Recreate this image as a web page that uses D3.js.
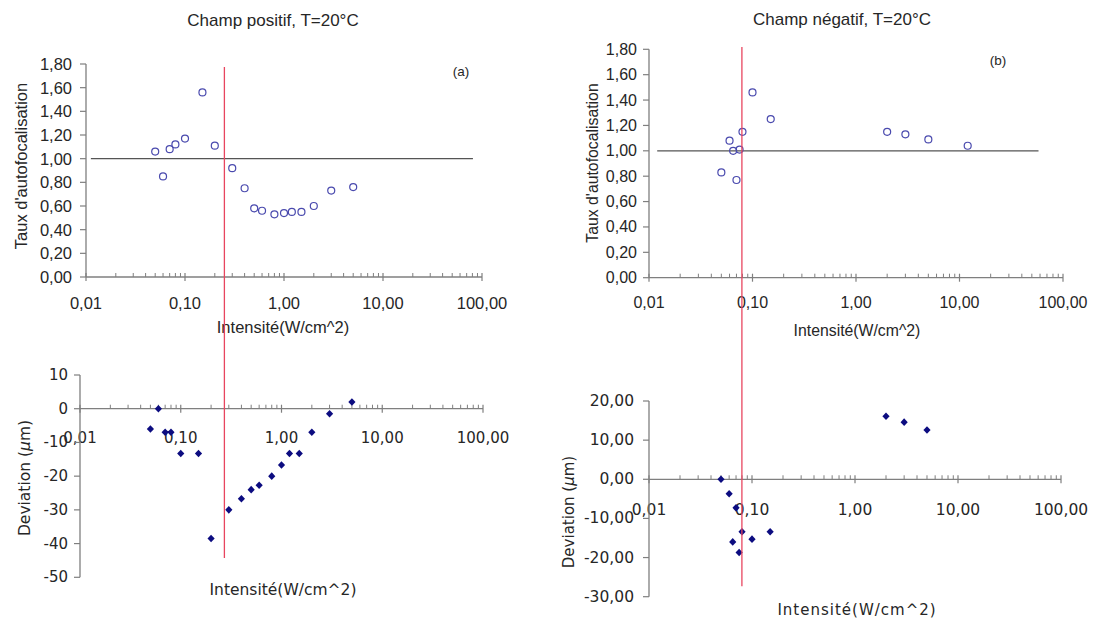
<!DOCTYPE html>
<html><head><meta charset="utf-8">
<script src="https://cdn.jsdelivr.net/npm/d3@7"></script>
<style>body{margin:0;background:#fff}svg{display:block}</style>
</head><body>
<svg id="c" width="1093" height="621"></svg>
<script>
// ---- data ----
const xTickValues = [0.01, 0.1, 1, 10, 100];
const xTickLabels = ["0,01", "0,10", "1,00", "10,00", "100,00"];

const tauxTicks = [0, 0.2, 0.4, 0.6, 0.8, 1.0, 1.2, 1.4, 1.6, 1.8];
const tauxTickLabels = ["0,00", "0,20", "0,40", "0,60", "0,80", "1,00", "1,20", "1,40", "1,60", "1,80"];
const posDevTicks = [10, 0, -10, -20, -30, -40, -50];
const posDevTickLabels = ["10", "0", "-10", "-20", "-30", "-40", "-50"];
const negDevTicks = [20, 10, 0, -10, -20, -30];
const negDevTickLabels = ["20,00", "10,00", "0,00", "-10,00", "-20,00", "-30,00"];

const posIntensity = [0.05, 0.06, 0.07, 0.08, 0.10, 0.15, 0.20, 0.30, 0.40, 0.50, 0.60, 0.80, 1.0, 1.2, 1.5, 2.0, 3.0, 5.0];
const posTaux = [1.06, 0.85, 1.08, 1.12, 1.17, 1.56, 1.11, 0.92, 0.75, 0.58, 0.56, 0.53, 0.54, 0.55, 0.55, 0.60, 0.73, 0.76];
const posDevIntensity = [0.05, 0.06, 0.07, 0.08, 0.10, 0.15, 0.20, 0.30, 0.40, 0.50, 0.60, 0.80, 1.0, 1.2, 1.5, 2.0, 3.0, 5.0];
const posDeviation = [-6, 0, -7, -7, -13.3, -13.3, -38.5, -30, -26.7, -24, -22.7, -20, -16.7, -13.3, -13.3, -7, -1.5, 2];

const negIntensity = [0.05, 0.06, 0.065, 0.07, 0.075, 0.08, 0.10, 0.15, 2.0, 3.0, 5.0, 12];
const negTaux = [0.83, 1.08, 1.00, 0.77, 1.01, 1.15, 1.46, 1.25, 1.15, 1.13, 1.09, 1.04];
const negDevIntensity = [0.05, 0.06, 0.065, 0.07, 0.075, 0.08, 0.10, 0.15, 2.0, 3.0, 5.0];
const negDeviation = [0, -3.7, -16, -7.3, -18.7, -13.4, -15.3, -13.4, 16.1, 14.6, 12.6];

const posRefLineX = [0.0112, 81];
const negRefLineX = [0.012, 58];
const posThreshold = 0.25;
const negThreshold = 0.079;

// ---- drawing ----
const svg = d3.select("#c");
const AXIS = "#7f7f7f";
const TXT = "#262626";
const minorVals = [];
for (let e = -2; e < 2; e++) for (let m = 2; m <= 9; m++) minorVals.push(m * Math.pow(10, e));

function panel(cfg) {
  const g = svg.append("g");
  const x = d3.scaleLog().domain([0.01, 100]).range(cfg.xr);
  const y = d3.scaleLinear().domain(cfg.yd).range(cfg.yr);
  const ax0 = y(cfg.xAxisAt);
  g.append("line").attr("x1", x(0.01)).attr("x2", x(100)).attr("y1", ax0).attr("y2", ax0)
    .attr("stroke", AXIS).attr("stroke-width", 1.3);
  g.selectAll(".mn").data(minorVals).join("line")
    .attr("x1", d => x(d)).attr("x2", d => x(d)).attr("y1", ax0 - 4).attr("y2", ax0)
    .attr("stroke", AXIS).attr("stroke-width", 1);
  g.selectAll(".mj").data(xTickValues).join("line")
    .attr("x1", d => x(d)).attr("x2", d => x(d)).attr("y1", ax0 - 4).attr("y2", ax0 + 4)
    .attr("stroke", AXIS).attr("stroke-width", 1.2);
  g.selectAll(".xl").data(xTickValues).join("text")
    .attr("x", d => x(d)).attr("y", ax0 + cfg.xlOff)
    .attr("text-anchor", "middle").attr("dominant-baseline", "central")
    .attr("font-family", cfg.font).attr("font-size", cfg.fs).attr("fill", TXT)
    .text((d, i) => xTickLabels[i]);
  const yx = x(0.01);
  g.append("line").attr("x1", yx).attr("x2", yx).attr("y1", y(cfg.yd[0])).attr("y2", y(cfg.yd[1]))
    .attr("stroke", AXIS).attr("stroke-width", 1.3);
  g.selectAll(".yt").data(cfg.yTicks).join("line")
    .attr("x1", yx - 6).attr("x2", yx).attr("y1", d => y(d)).attr("y2", d => y(d))
    .attr("stroke", AXIS).attr("stroke-width", 1.2);
  g.selectAll(".yl").data(cfg.yTicks).join("text")
    .attr("x", yx - cfg.ylOff).attr("y", d => y(d))
    .attr("text-anchor", "end").attr("dominant-baseline", "central")
    .attr("font-family", cfg.font).attr("font-size", cfg.fs).attr("fill", TXT)
    .text((d, i) => cfg.yTickLabels[i]);
  if (cfg.refX) {
    g.append("line").attr("x1", x(cfg.refX[0])).attr("x2", x(cfg.refX[1]))
      .attr("y1", y(1)).attr("y2", y(1)).attr("stroke", "#555").attr("stroke-width", 1.3);
  }
  g.append("text").attr("x", cfg.xtPos[0]).attr("y", cfg.xtPos[1])
    .attr("text-anchor", "middle").attr("dominant-baseline", "central")
    .attr("font-family", cfg.font).attr("font-size", cfg.tfs).attr("fill", TXT)
    .attr("letter-spacing", cfg.ls || 0)
    .text("Intensité(W/cm^2)");
  const yt = g.append("text").attr("transform", `translate(${cfg.ytPos[0]},${cfg.ytPos[1]}) rotate(-90)`)
    .attr("text-anchor", "middle").attr("dominant-baseline", "central")
    .attr("font-family", cfg.font).attr("font-size", cfg.tfs).attr("fill", TXT);
  if (cfg.dev) {
    yt.append("tspan").text("Deviation (");
    yt.append("tspan").attr("font-style", "italic").text("μ");
    yt.append("tspan").text("m)");
  } else {
    yt.text("Taux d'autofocalisation");
  }
  return {g, x, y};
}

const F1 = "'Liberation Sans', Arial, sans-serif";
const F2 = "'DejaVu Sans', sans-serif";

const A = panel({xr: [86, 482], yd: [0, 1.8], yr: [277, 64], xAxisAt: 0, xlOff: 26, ylOff: 14,
  font: F1, fs: 16.5, tfs: 16.5, yTicks: tauxTicks, yTickLabels: tauxTickLabels, refX: posRefLineX,
  xtPos: [283, 327], ytPos: [21, 166]});
const B = panel({xr: [649, 1063], yd: [0, 1.8], yr: [277.7, 49.3], xAxisAt: 0, xlOff: 25, ylOff: 12,
  font: F1, fs: 16, tfs: 15.8, yTicks: tauxTicks, yTickLabels: tauxTickLabels, refX: negRefLineX,
  xtPos: [857, 330], ytPos: [592, 163]});
const C = panel({xr: [80, 483], yd: [-50, 10], yr: [577.3, 375], xAxisAt: 0, xlOff: 29, ylOff: 12,
  font: F2, fs: 15, tfs: 15.5, yTicks: posDevTicks, yTickLabels: posDevTickLabels, dev: true,
  xtPos: [283, 590], ytPos: [25, 478]});
const D = panel({xr: [649, 1061], yd: [-30, 20], yr: [596.7, 401], xAxisAt: 0, xlOff: 31, ylOff: 15,
  font: F2, fs: 15.5, tfs: 15, yTicks: negDevTicks, yTickLabels: negDevTickLabels, dev: true,
  xtPos: [857, 610], ytPos: [569, 512], ls: 1});

const RED = "#e8455f";
svg.append("line").attr("x1", A.x(posThreshold)).attr("x2", A.x(posThreshold))
  .attr("y1", A.y(1.775)).attr("y2", C.y(-44.3)).attr("stroke", RED).attr("stroke-width", 1.3);
svg.append("line").attr("x1", B.x(negThreshold)).attr("x2", B.x(negThreshold))
  .attr("y1", B.y(1.818)).attr("y2", D.y(-27.3)).attr("stroke", RED).attr("stroke-width", 1.3);

function circles(P, xs, ys) {
  P.g.selectAll(".pt").data(xs).join("circle")
    .attr("cx", d => P.x(d)).attr("cy", (d, i) => P.y(ys[i])).attr("r", 3.5)
    .attr("fill", "none").attr("stroke", "#4a4aae").attr("stroke-width", 1.2);
}
function diamonds(P, xs, ys) {
  P.g.selectAll(".dm").data(xs).join("path")
    .attr("d", "M0,-3.8L3.6,0L0,3.8L-3.6,0Z")
    .attr("transform", (d, i) => `translate(${P.x(d)},${P.y(ys[i])})`)
    .attr("fill", "#0c0c80");
}
circles(A, posIntensity, posTaux);
circles(B, negIntensity, negTaux);
diamonds(C, posDevIntensity, posDeviation);
diamonds(D, negDevIntensity, negDeviation);

function txt(x, y, s, fs, anchor) {
  svg.append("text").attr("x", x).attr("y", y).attr("text-anchor", anchor || "middle")
    .attr("dominant-baseline", "central").attr("font-family", F1).attr("font-size", fs)
    .attr("fill", TXT).text(s);
}
txt(273, 20, "Champ positif, T=20°C", 17);
txt(842, 19, "Champ négatif, T=20°C", 17);
txt(461, 71, "(a)", 13.5);
txt(998, 60, "(b)", 13.5);
</script>
</body></html>
